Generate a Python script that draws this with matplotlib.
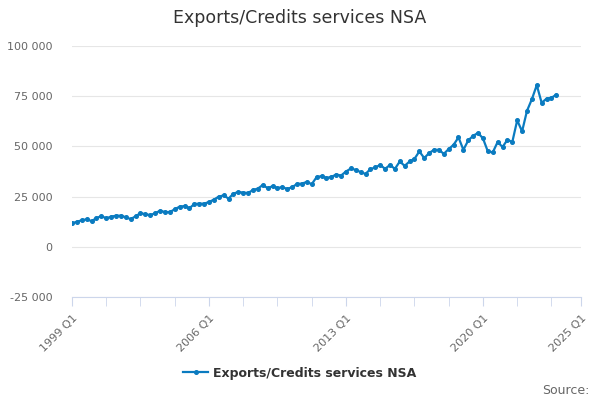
import matplotlib.pyplot as plt
from matplotlib.ticker import FuncFormatter, FixedLocator

# quarterly values, 1999 Q1 .. 2023 Q4
quarters = [f"{y} Q{q}" for y in range(1999, 2024) for q in range(1, 5)]
values = [
    11700, 12500, 13200, 13700, 12800, 14300, 15300, 14200, 15000, 15500,
    15500, 14700, 13800, 15200, 16800, 16200, 15800, 16700, 18000, 17300,
    17300, 18700, 20000, 20300, 19200, 21300, 21500, 21500, 22300, 23500,
    25000, 25600, 24000, 26500, 27300, 27000, 26800, 28300, 29000, 30800,
    29200, 30200, 29300, 29700, 28800, 29700, 31300, 31500, 32300, 31200,
    34700, 35200, 34300, 34800, 36000, 35500, 37500, 39000, 38300, 37200,
    36300, 38700, 39500, 40800, 38800, 40800, 38800, 42500, 40300, 42500,
    43800, 47500, 44200, 46700, 48300, 48300, 46300, 48700, 50800, 54500,
    48300, 53000, 55300, 56700, 54000, 47500, 47000, 52200, 49700, 53300,
    52200, 63000, 57500, 67700, 73500, 80500, 71700, 73800, 74200, 75800,
]
series_name = "Exports/Credits services NSA"
tick_labels = ["1999 Q1", "2006 Q1", "2013 Q1", "2020 Q1", "2025 Q1"]
tick_pos = [0, 28, 56, 84, 104]  # quarters since 1999 Q1

fig = plt.figure(figsize=(6, 4), dpi=100)
ax = fig.add_axes([0.12, 0.2575, 0.848, 0.6275])

x = list(range(len(values)))
line, = ax.plot(x, values, color="#0a7bc0", lw=1.6, marker="o", ms=2.6,
                label=series_name)

ax.set_xlim(0, 104)
ax.set_ylim(-25000, 100000)
ax.set_yticks([-25000, 0, 25000, 50000, 75000, 100000])
ax.yaxis.set_major_formatter(FuncFormatter(lambda v, p: f"{int(v):,}".replace(",", " ")))
ax.grid(axis="y", color="#e6e6e6", lw=0.8)
ax.set_axisbelow(True)

ax.set_xticks(tick_pos)
ax.set_xticklabels(tick_labels, rotation=45, ha="right", rotation_mode="anchor")
ax.xaxis.set_minor_locator(FixedLocator(list(range(0, 104, 7))))
ax.tick_params(axis="x", which="both", length=6.5, color="#ccd6eb", labelsize=8,
               labelcolor="#666666", pad=5)
ax.tick_params(axis="y", length=0, labelsize=8, labelcolor="#666666", pad=14)

for s in ["top", "right", "left"]:
    ax.spines[s].set_visible(False)
ax.spines["bottom"].set_color("#ccd6eb")

fig.text(0.5, 0.955, series_name, ha="center", va="center", fontsize=12.5, color="#333333")
leg = fig.legend(handles=[line], loc="center", bbox_to_anchor=(0.5, 0.067), frameon=False,
                 prop={"weight": "bold", "size": 9}, handlelength=2.0, handletextpad=0.4)
for t in leg.get_texts():
    t.set_color("#333333")
fig.text(0.983, 0.025, "Source:", ha="right", va="center", fontsize=9, color="#666666")

fig.savefig("out.png", dpi=100)
